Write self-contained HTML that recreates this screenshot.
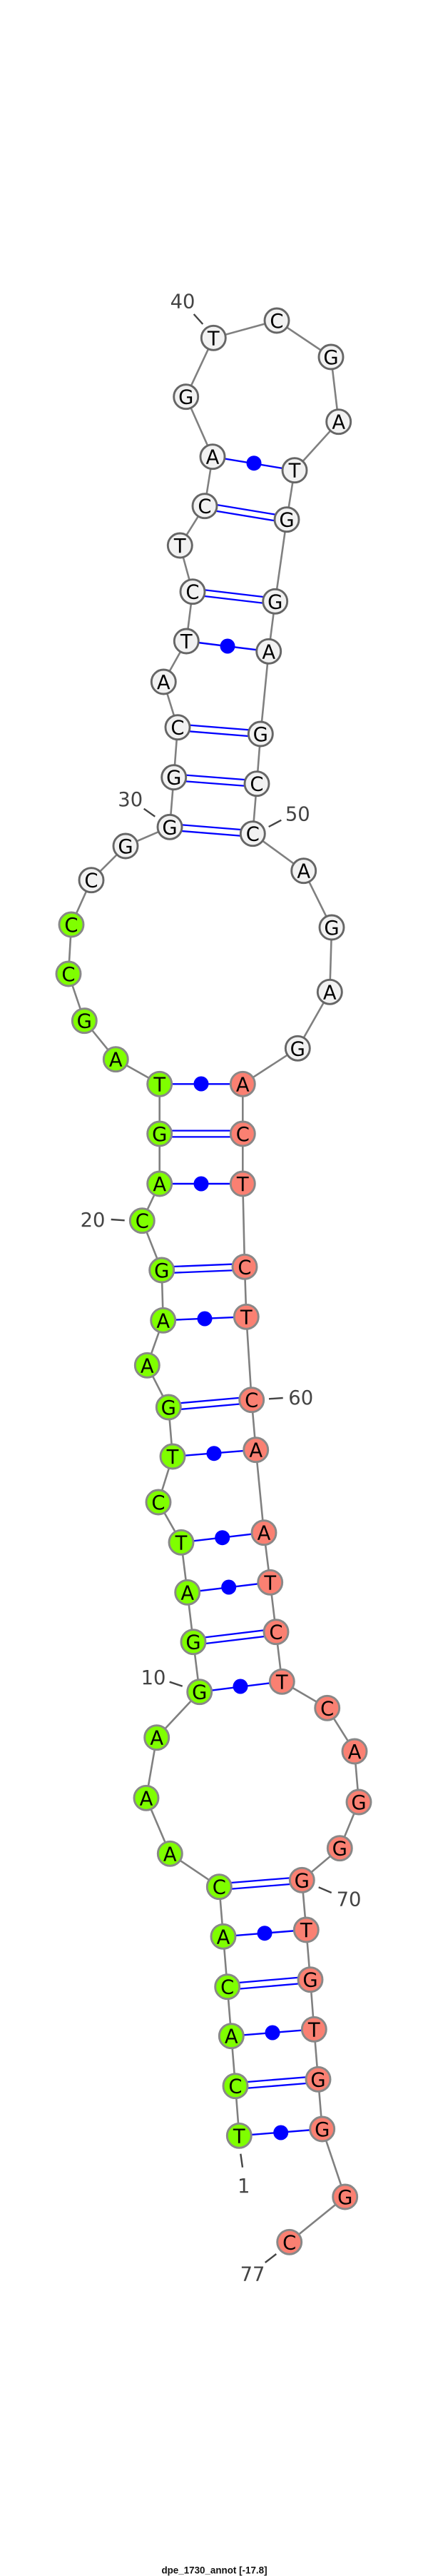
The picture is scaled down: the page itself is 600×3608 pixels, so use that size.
<!DOCTYPE html>
<html><head><meta charset="utf-8"><style>
html,body{margin:0;padding:0;background:#fff}
svg{display:block}
.n text{font:27.4px "DejaVu Sans",sans-serif;fill:#000;text-anchor:middle}
.l{font:27.4px "DejaVu Sans",sans-serif;fill:#444;text-anchor:middle}
.w circle{fill:#f2f2f2;stroke:#666;stroke-width:2.9;r:17px}
.g circle{fill:#7fff00;stroke:#888;stroke-width:2.9;r:17px}
.r circle{fill:#fa8072;stroke:#888;stroke-width:2.9;r:17px}
</style></head><body>
<svg xmlns="http://www.w3.org/2000/svg" width="600" height="3608" viewBox="0 0 600 3608">
<rect width="600" height="3608" fill="#fff"/>
<polyline fill="none" stroke="#808080" stroke-width="2.6" points="335.3,2991.3 330,2921.7 324.3,2851.7 318.7,2782.7 313,2712.3 307.3,2642.7 238.3,2596.3 205,2518.3 219.7,2433.7 279.7,2369.7 271,2299.7 262.7,2230.3 254,2160.3 222,2104 242,2040 236.3,1971 206.3,1912.3 228.7,1849.3 226.7,1779 199.3,1709.7 223.7,1658 223.7,1588 223.7,1518.3 162.3,1483.7 118.3,1429.7 96,1364 100,1295 128,1232.7 176,1185 238,1158.3 243.7,1088.7 249,1018.7 229.3,955 261.3,898 270,828.7 252.3,764 287,708.7 298,639.7 260.7,555.7 299.3,473.3 388,449 464,500 474.7,590.7 413,658.7 402,727.7 385.7,842.3 376.7,912.3 365.3,1028 360,1097.7 354.3,1167.7 425.7,1219.7 465,1299 462.3,1389.3 417.3,1468.3 340.3,1518.3 340.3,1588 340.3,1658 343,1774.3 345.3,1844.3 352.7,1960.7 358.7,2030.7 370,2146.7 378.7,2216.3 387,2285.7 395.3,2355.3 458.7,2392.3 497,2453 503,2524 476.3,2588.7 423.3,2633.3 429.3,2703 435,2772.7 440.3,2842.3 446,2912.3 451.7,2982 483.7,3077 405.7,3140.3"/>
<g stroke="#0000ff" stroke-width="2.4" fill="none">
<line x1="335.3" y1="2991.3" x2="451.7" y2="2982"/>
<line x1="324.3" y1="2851.7" x2="440.3" y2="2842.3"/>
<line x1="313" y1="2712.3" x2="429.3" y2="2703"/>
<line x1="279.7" y1="2369.7" x2="395.3" y2="2355.3"/>
<line x1="262.7" y1="2230.3" x2="378.7" y2="2216.3"/>
<line x1="254" y1="2160.3" x2="370" y2="2146.7"/>
<line x1="242" y1="2040" x2="358.7" y2="2030.7"/>
<line x1="228.7" y1="1849.3" x2="345.3" y2="1844.3"/>
<line x1="223.7" y1="1658" x2="340.3" y2="1658"/>
<line x1="223.7" y1="1518.3" x2="340.3" y2="1518.3"/>
<line x1="261.3" y1="898" x2="376.7" y2="912.3"/>
<line x1="298" y1="639.7" x2="413" y2="658.7"/>
</g>
<g fill="#0000ff">
<circle cx="393.7" cy="2987" r="10.5"/>
<circle cx="382" cy="2847" r="10.5"/>
<circle cx="371" cy="2707.7" r="10.5"/>
<circle cx="337" cy="2362" r="10.5"/>
<circle cx="320.7" cy="2223" r="10.5"/>
<circle cx="311.7" cy="2153.7" r="10.5"/>
<circle cx="300" cy="2035.7" r="10.5"/>
<circle cx="287" cy="1847" r="10.5"/>
<circle cx="282" cy="1658" r="10.5"/>
<circle cx="282" cy="1518" r="10.5"/>
<circle cx="319" cy="905" r="10.5"/>
<circle cx="356" cy="648.7" r="10.5"/>
</g>
<g stroke="#0000ff" stroke-width="11" fill="none">
<line x1="330" y1="2921.7" x2="446" y2="2912.3"/>
<line x1="318.7" y1="2782.7" x2="435" y2="2772.7"/>
<line x1="307.3" y1="2642.7" x2="423.3" y2="2633.3"/>
<line x1="271" y1="2299.7" x2="387" y2="2285.7"/>
<line x1="236.3" y1="1971" x2="352.7" y2="1960.7"/>
<line x1="226.7" y1="1779" x2="343" y2="1774.3"/>
<line x1="223.7" y1="1588" x2="340.3" y2="1588"/>
<line x1="238" y1="1158.3" x2="354.3" y2="1167.7"/>
<line x1="243.7" y1="1088.7" x2="360" y2="1097.7"/>
<line x1="249" y1="1018.7" x2="365.3" y2="1028"/>
<line x1="270" y1="828.7" x2="385.7" y2="842.3"/>
<line x1="287" y1="708.7" x2="402" y2="727.7"/>
</g>
<g stroke="#fff" stroke-width="6.4" fill="none">
<line x1="330" y1="2921.7" x2="446" y2="2912.3"/>
<line x1="318.7" y1="2782.7" x2="435" y2="2772.7"/>
<line x1="307.3" y1="2642.7" x2="423.3" y2="2633.3"/>
<line x1="271" y1="2299.7" x2="387" y2="2285.7"/>
<line x1="236.3" y1="1971" x2="352.7" y2="1960.7"/>
<line x1="226.7" y1="1779" x2="343" y2="1774.3"/>
<line x1="223.7" y1="1588" x2="340.3" y2="1588"/>
<line x1="238" y1="1158.3" x2="354.3" y2="1167.7"/>
<line x1="243.7" y1="1088.7" x2="360" y2="1097.7"/>
<line x1="249" y1="1018.7" x2="365.3" y2="1028"/>
<line x1="270" y1="828.7" x2="385.7" y2="842.3"/>
<line x1="287" y1="708.7" x2="402" y2="727.7"/>
</g>
<g stroke="#444" stroke-width="2.4" fill="none">
<line x1="337.3" y1="3016.7" x2="340" y2="3035.7"/>
<line x1="237.7" y1="2355.7" x2="255.7" y2="2361.7"/>
<line x1="155.7" y1="1708" x2="174.7" y2="1709.3"/>
<line x1="201.7" y1="1132.7" x2="217.3" y2="1143.7"/>
<line x1="271.7" y1="440" x2="284.3" y2="454"/>
<line x1="376.7" y1="1158" x2="394.3" y2="1148.7"/>
<line x1="377" y1="1959.3" x2="396.7" y2="1958"/>
<line x1="446.7" y1="2643.3" x2="464.7" y2="2651"/>
<line x1="387.3" y1="3157" x2="371.7" y2="3169"/>
</g>
<g class="l">
<text class="l" x="341.7" y="3071">1</text>
<text class="l" x="215" y="2359">10</text>
<text class="l" x="130" y="1718">20</text>
<text class="l" x="182.7" y="1129">30</text>
<text class="l" x="256" y="431.3">40</text>
<text class="l" x="417.3" y="1149.7">50</text>
<text class="l" x="421.7" y="1967">60</text>
<text class="l" x="489" y="2669.3">70</text>
<text class="l" x="354" y="3194.3">77</text>
</g>
<g class="n g">
<circle cx="335.3" cy="2991.3"/><text x="335.3" y="3001.3">T</text>
<circle cx="330" cy="2921.7"/><text x="330" y="2931.7">C</text>
<circle cx="324.3" cy="2851.7"/><text x="324.3" y="2861.7">A</text>
<circle cx="318.7" cy="2782.7"/><text x="318.7" y="2792.7">C</text>
<circle cx="313" cy="2712.3"/><text x="313" y="2722.3">A</text>
<circle cx="307.3" cy="2642.7"/><text x="307.3" y="2652.7">C</text>
<circle cx="238.3" cy="2596.3"/><text x="238.3" y="2606.3">A</text>
<circle cx="205" cy="2518.3"/><text x="205" y="2528.3">A</text>
<circle cx="219.7" cy="2433.7"/><text x="219.7" y="2443.7">A</text>
<circle cx="279.7" cy="2369.7"/><text x="279.7" y="2379.7">G</text>
<circle cx="271" cy="2299.7"/><text x="271" y="2309.7">G</text>
<circle cx="262.7" cy="2230.3"/><text x="262.7" y="2240.3">A</text>
<circle cx="254" cy="2160.3"/><text x="254" y="2170.3">T</text>
<circle cx="222" cy="2104"/><text x="222" y="2114">C</text>
<circle cx="242" cy="2040"/><text x="242" y="2050">T</text>
<circle cx="236.3" cy="1971"/><text x="236.3" y="1981">G</text>
<circle cx="206.3" cy="1912.3"/><text x="206.3" y="1922.3">A</text>
<circle cx="228.7" cy="1849.3"/><text x="228.7" y="1859.3">A</text>
<circle cx="226.7" cy="1779"/><text x="226.7" y="1789">G</text>
<circle cx="199.3" cy="1709.7"/><text x="199.3" y="1719.7">C</text>
<circle cx="223.7" cy="1658"/><text x="223.7" y="1668">A</text>
<circle cx="223.7" cy="1588"/><text x="223.7" y="1598">G</text>
<circle cx="223.7" cy="1518.3"/><text x="223.7" y="1528.3">T</text>
<circle cx="162.3" cy="1483.7"/><text x="162.3" y="1493.7">A</text>
<circle cx="118.3" cy="1429.7"/><text x="118.3" y="1439.7">G</text>
<circle cx="96" cy="1364"/><text x="96" y="1374">C</text>
<circle cx="100" cy="1295"/><text x="100" y="1305">C</text>
</g>
<g class="n w">
<circle cx="128" cy="1232.7"/><text x="128" y="1242.7">C</text>
<circle cx="176" cy="1185"/><text x="176" y="1195">G</text>
<circle cx="238" cy="1158.3"/><text x="238" y="1168.3">G</text>
<circle cx="243.7" cy="1088.7"/><text x="243.7" y="1098.7">G</text>
<circle cx="249" cy="1018.7"/><text x="249" y="1028.7">C</text>
<circle cx="229.3" cy="955"/><text x="229.3" y="965">A</text>
<circle cx="261.3" cy="898"/><text x="261.3" y="908">T</text>
<circle cx="270" cy="828.7"/><text x="270" y="838.7">C</text>
<circle cx="252.3" cy="764"/><text x="252.3" y="774">T</text>
<circle cx="287" cy="708.7"/><text x="287" y="718.7">C</text>
<circle cx="298" cy="639.7"/><text x="298" y="649.7">A</text>
<circle cx="260.7" cy="555.7"/><text x="260.7" y="565.7">G</text>
<circle cx="299.3" cy="473.3"/><text x="299.3" y="483.3">T</text>
<circle cx="388" cy="449"/><text x="388" y="459">C</text>
<circle cx="464" cy="500"/><text x="464" y="510">G</text>
<circle cx="474.7" cy="590.7"/><text x="474.7" y="600.7">A</text>
<circle cx="413" cy="658.7"/><text x="413" y="668.7">T</text>
<circle cx="402" cy="727.7"/><text x="402" y="737.7">G</text>
<circle cx="385.7" cy="842.3"/><text x="385.7" y="852.3">G</text>
<circle cx="376.7" cy="912.3"/><text x="376.7" y="922.3">A</text>
<circle cx="365.3" cy="1028"/><text x="365.3" y="1038">G</text>
<circle cx="360" cy="1097.7"/><text x="360" y="1107.7">C</text>
<circle cx="354.3" cy="1167.7"/><text x="354.3" y="1177.7">C</text>
<circle cx="425.7" cy="1219.7"/><text x="425.7" y="1229.7">A</text>
<circle cx="465" cy="1299"/><text x="465" y="1309">G</text>
<circle cx="462.3" cy="1389.3"/><text x="462.3" y="1399.3">A</text>
<circle cx="417.3" cy="1468.3"/><text x="417.3" y="1478.3">G</text>
</g>
<g class="n r">
<circle cx="340.3" cy="1518.3"/><text x="340.3" y="1528.3">A</text>
<circle cx="340.3" cy="1588"/><text x="340.3" y="1598">C</text>
<circle cx="340.3" cy="1658"/><text x="340.3" y="1668">T</text>
<circle cx="343" cy="1774.3"/><text x="343" y="1784.3">C</text>
<circle cx="345.3" cy="1844.3"/><text x="345.3" y="1854.3">T</text>
<circle cx="352.7" cy="1960.7"/><text x="352.7" y="1970.7">C</text>
<circle cx="358.7" cy="2030.7"/><text x="358.7" y="2040.7">A</text>
<circle cx="370" cy="2146.7"/><text x="370" y="2156.7">A</text>
<circle cx="378.7" cy="2216.3"/><text x="378.7" y="2226.3">T</text>
<circle cx="387" cy="2285.7"/><text x="387" y="2295.7">C</text>
<circle cx="395.3" cy="2355.3"/><text x="395.3" y="2365.3">T</text>
<circle cx="458.7" cy="2392.3"/><text x="458.7" y="2402.3">C</text>
<circle cx="497" cy="2453"/><text x="497" y="2463">A</text>
<circle cx="503" cy="2524"/><text x="503" y="2534">G</text>
<circle cx="476.3" cy="2588.7"/><text x="476.3" y="2598.7">G</text>
<circle cx="423.3" cy="2633.3"/><text x="423.3" y="2643.3">G</text>
<circle cx="429.3" cy="2703"/><text x="429.3" y="2713">T</text>
<circle cx="435" cy="2772.7"/><text x="435" y="2782.7">G</text>
<circle cx="440.3" cy="2842.3"/><text x="440.3" y="2852.3">T</text>
<circle cx="446" cy="2912.3"/><text x="446" y="2922.3">G</text>
<circle cx="451.7" cy="2982"/><text x="451.7" y="2992">G</text>
<circle cx="483.7" cy="3077"/><text x="483.7" y="3087">G</text>
<circle cx="405.7" cy="3140.3"/><text x="405.7" y="3150.3">C</text>
</g>
<text x="300.5" y="3604.3" text-anchor="middle" font-family="'Liberation Sans',sans-serif" font-weight="bold" font-size="13.4" fill="#111">dpe_1730_annot [-17.8]</text>
</svg>
</body></html>
